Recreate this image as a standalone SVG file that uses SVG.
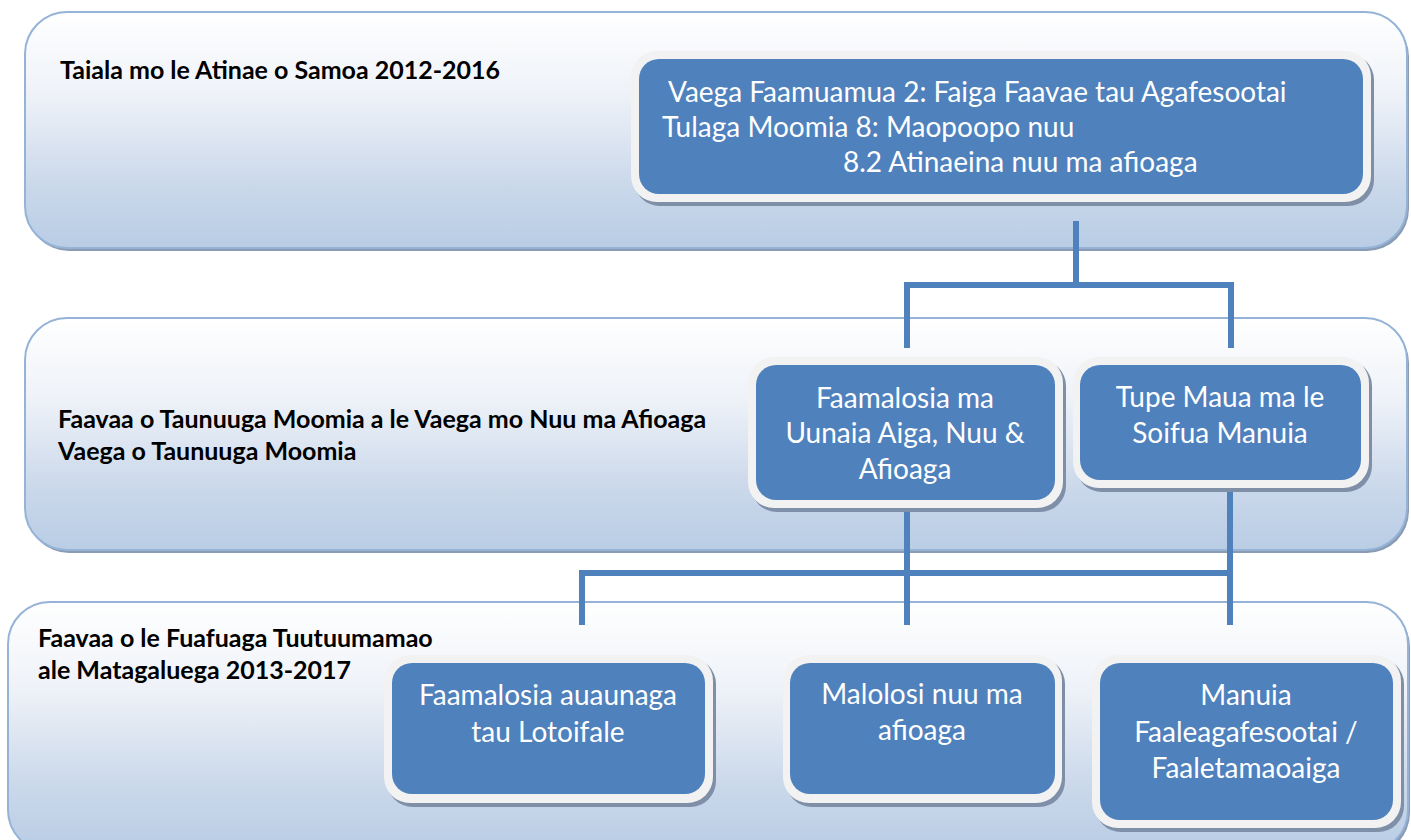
<svg xmlns="http://www.w3.org/2000/svg" width="1411" height="840" viewBox="0 0 1411 840">
  <defs>
    <linearGradient id="bandGrad" x1="0" y1="0" x2="0" y2="1">
      <stop offset="0" stop-color="#FFFFFF"/>
      <stop offset="0.35" stop-color="#EEF2F8"/>
      <stop offset="0.75" stop-color="#C9D7EA"/>
      <stop offset="1" stop-color="#B9CDE5"/>
    </linearGradient>
  </defs>
  <style>
    .bandShadow { fill: #8A9BB3; }
    .band { fill: url(#bandGrad); stroke: #95B3D7; stroke-width: 2; }
    .nodeShadow { fill: #7F8FA8; }
    .frame { fill: #F2F2F2; }
    .box { fill: #4F81BD; }
    .title { font-family: Lato, "Liberation Sans", sans-serif; font-weight: bold; font-size: 25px; fill: #000000; }
    .label { font-family: Lato, "Liberation Sans", sans-serif; font-size: 28px; fill: #FFFFFF; }
    .mid { text-anchor: middle; }
    .conn { fill: none; stroke: #4F81BD; stroke-width: 6; stroke-linecap: butt; stroke-linejoin: miter; }
  </style>

  <g id="band1">
    <rect class="bandShadow" x="27" y="15" width="1382" height="236" rx="42"/>
    <rect class="band" x="25" y="12" width="1382" height="236" rx="42"/>
    <text class="title" x="60" y="79">Taiala mo le Atinae o Samoa 2012-2016</text>
  </g>
  <g id="band2">
    <rect class="bandShadow" x="27" y="321" width="1382" height="232" rx="42"/>
    <rect class="band" x="25" y="318" width="1382" height="232" rx="42"/>
    <text class="title" x="58" y="428">Faavaa o Taunuuga Moomia a le Vaega mo Nuu ma Afioaga</text>
    <text class="title" x="58" y="460">Vaega o Taunuuga Moomia</text>
  </g>
  <g id="band3">
    <rect class="bandShadow" x="10" y="605" width="1400" height="250" rx="42"/>
    <rect class="band" x="8" y="602" width="1400" height="250" rx="42"/>
    <text class="title" x="38" y="647">Faavaa o le Fuafuaga Tuutuumamao</text>
    <text class="title" x="38" y="679">ale Matagaluega 2013-2017</text>
  </g>

  <g id="connectors">
    <path class="conn" d="M1076,221 V285"/>
    <path class="conn" d="M907,348 V285 H1231 V348"/>
    <path class="conn" d="M907,500 V625"/>
    <path class="conn" d="M1230,485 V625"/>
    <path class="conn" d="M582,625 V573 H1230"/>
  </g>

  <g id="node-top">
    <rect class="nodeShadow" x="634" y="54" width="740" height="152" rx="26"/>
    <rect class="frame" x="631" y="51" width="740" height="151" rx="26"/>
    <rect class="box" x="639" y="59" width="724" height="135" rx="20"/>
    <text class="label" x="668" y="102">Vaega Faamuamua 2: Faiga Faavae tau Agafesootai</text>
    <text class="label" x="662" y="137">Tulaga Moomia 8: Maopoopo nuu</text>
    <text class="label" x="843" y="172">8.2 Atinaeina nuu ma afioaga</text>
  </g>

  <g id="node-faamalosia-aiga">
    <rect class="nodeShadow" x="751" y="360" width="315" height="152" rx="26"/>
    <rect class="frame" x="748" y="357" width="315" height="151" rx="26"/>
    <rect class="box" x="756" y="365" width="299" height="135" rx="20"/>
    <text class="label mid" x="905" y="408">Faamalosia ma</text>
    <text class="label mid" x="905" y="443">Uunaia Aiga, Nuu &amp;</text>
    <text class="label mid" x="905" y="479">Afioaga</text>
  </g>

  <g id="node-tupe-maua">
    <rect class="nodeShadow" x="1076" y="360" width="296" height="132" rx="26"/>
    <rect class="frame" x="1073" y="357" width="296" height="131" rx="26"/>
    <rect class="box" x="1080" y="365" width="281" height="115" rx="20"/>
    <text class="label mid" x="1220" y="407">Tupe Maua ma le</text>
    <text class="label mid" x="1220" y="443">Soifua Manuia</text>
  </g>

  <g id="node-lotoifale">
    <rect class="nodeShadow" x="387" y="658" width="329" height="149" rx="26"/>
    <rect class="frame" x="384" y="655" width="329" height="148" rx="26"/>
    <rect class="box" x="392" y="663" width="313" height="131" rx="20"/>
    <text class="label mid" x="548" y="705">Faamalosia auaunaga</text>
    <text class="label mid" x="548" y="742">tau Lotoifale</text>
  </g>

  <g id="node-malolosi">
    <rect class="nodeShadow" x="786" y="658" width="279" height="149" rx="26"/>
    <rect class="frame" x="783" y="655" width="279" height="148" rx="26"/>
    <rect class="box" x="790" y="663" width="265" height="131" rx="20"/>
    <text class="label mid" x="922" y="704">Malolosi nuu ma</text>
    <text class="label mid" x="922" y="740">afioaga</text>
  </g>

  <g id="node-manuia">
    <rect class="nodeShadow" x="1095" y="658" width="309" height="174" rx="26"/>
    <rect class="frame" x="1092" y="655" width="309" height="173" rx="26"/>
    <rect class="box" x="1100" y="663" width="293" height="157" rx="20"/>
    <text class="label mid" x="1246" y="705">Manuia</text>
    <text class="label mid" x="1246" y="742">Faaleagafesootai /</text>
    <text class="label mid" x="1246" y="778">Faaletamaoaiga</text>
  </g>
</svg>
